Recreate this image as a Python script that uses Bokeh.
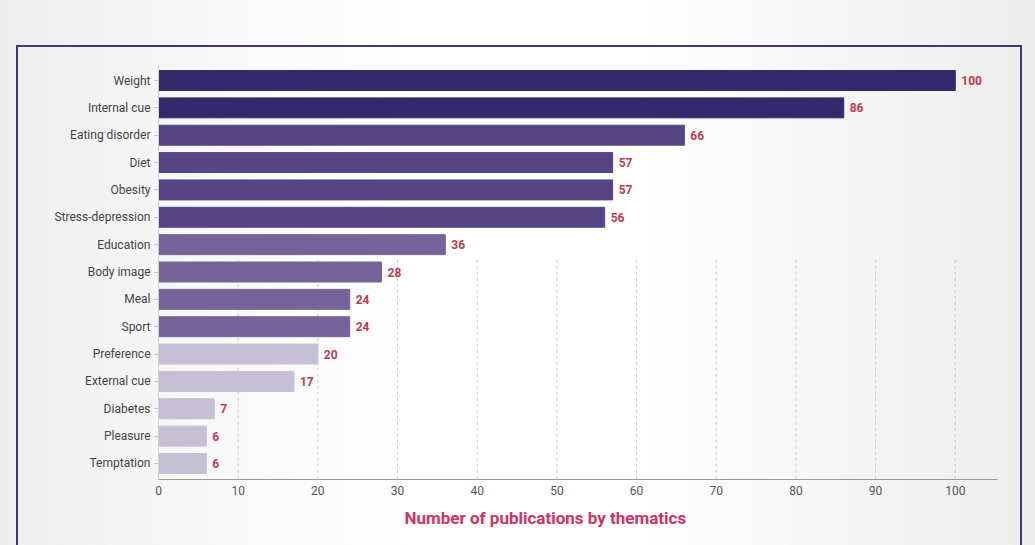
from bokeh.plotting import figure
from bokeh.models import ColumnDataSource, FactorRange, Range1d, FixedTicker, LabelSet, Title
from bokeh.core.properties import value
from bokeh.layouts import column
from bokeh.embed import file_html
from bokeh.resources import INLINE

categories = ["Weight", "Internal cue", "Eating disorder", "Diet", "Obesity",
              "Stress-depression", "Education", "Body image", "Meal", "Sport",
              "Preference", "External cue", "Diabetes", "Pleasure", "Temptation"]
counts = [100, 86, 66, 57, 57, 56, 36, 28, 24, 24, 20, 17, 7, 6, 6]
colors = ["#33296b", "#33296b", "#574583", "#574583", "#574583", "#574583",
          "#75649a", "#75649a", "#75649a", "#75649a",
          "#c6bfd6", "#c6bfd6", "#c6bfd6", "#c6bfd6", "#c6bfd6"]
x_ticks = [0, 10, 20, 30, 40, 50, 60, 70, 80, 90, 100]
x_title = "Number of publications by thematics"

source = ColumnDataSource(data=dict(cat=categories, n=counts, color=colors,
                                    lab=[str(v) for v in counts]))

p = figure(width=1002, height=500, output_backend="svg", toolbar_location=None,
           y_range=FactorRange(factors=list(reversed(categories)),
                               range_padding=0.085, range_padding_units="absolute"),
           x_range=Range1d(0, 105.3),
           min_border_left=140, min_border_right=23, min_border_top=17, min_border_bottom=68)

# dashed vertical grid, visible only in the lower part (below the Education row)
grid_src = ColumnDataSource(data=dict(
    x=x_ticks,
    y0=[("Temptation", -1.0)] * len(x_ticks),
    y1=[("Education", -0.5)] * len(x_ticks)))
p.segment(x0="x", x1="x", y0="y0", y1="y1", source=grid_src,
          line_color="#c8c8c8", line_dash="3 3", line_width=1)

p.hbar(y="cat", right="n", left=0, height=0.73, color="color", source=source)

labels = LabelSet(x="n", y="cat", text="lab", source=source, x_offset=6,
                  text_baseline="middle", text_font=value("Roboto"), text_font_style="bold",
                  text_font_size="12px", text_color="#c23a4c")
p.add_layout(labels)

p.background_fill_color = "#ffffff"
p.background_fill_alpha = 0.0
p.border_fill_color = "#ffffff"
p.border_fill_alpha = 0.0
p.outline_line_color = None

p.ygrid.grid_line_color = None
p.xgrid.grid_line_color = None

p.xaxis.ticker = FixedTicker(ticks=x_ticks)
p.xaxis.major_tick_out = 0
p.xaxis.major_tick_in = 0
p.xaxis.minor_tick_out = 0
p.xaxis.minor_tick_in = 0
p.xaxis.axis_line_color = "#9a9a9a"
p.xaxis.major_label_text_font = "Roboto"
p.xaxis.major_label_text_font_size = "12px"
p.xaxis.major_label_text_color = "#555555"
p.xaxis.major_label_standoff = 6

p.add_layout(Title(text=x_title, align="left", offset=246, standoff=17,
                   text_font="Roboto", text_font_style="bold", text_font_size="17px",
                   text_color="#d43161"), "below")

p.yaxis.axis_line_color = "#d0d0d0"
p.yaxis.major_tick_out = 4
p.yaxis.major_tick_in = 0
p.yaxis.major_tick_line_color = "#c0c0c0"
p.yaxis.major_label_standoff = 4
p.yaxis.major_label_text_font = "Roboto"
p.yaxis.major_label_text_font_size = "12px"
p.yaxis.major_label_text_color = "#444444"

boxed = column(p, styles={"border": "2px solid #41367e"},
               margin=(45, 0, 0, 16))
page = column(boxed, width=1035, height=545,
              styles={"position": "absolute", "left": "0px", "top": "0px",
                      "background": "linear-gradient(90deg, #eeeeef 0%, #fafafa 25%, #ffffff 40%, #ffffff 62%, #f6f6f6 80%, #ededee 100%)",
                      "overflow": "hidden"})

open("out.html", "w").write(file_html(page, INLINE))
